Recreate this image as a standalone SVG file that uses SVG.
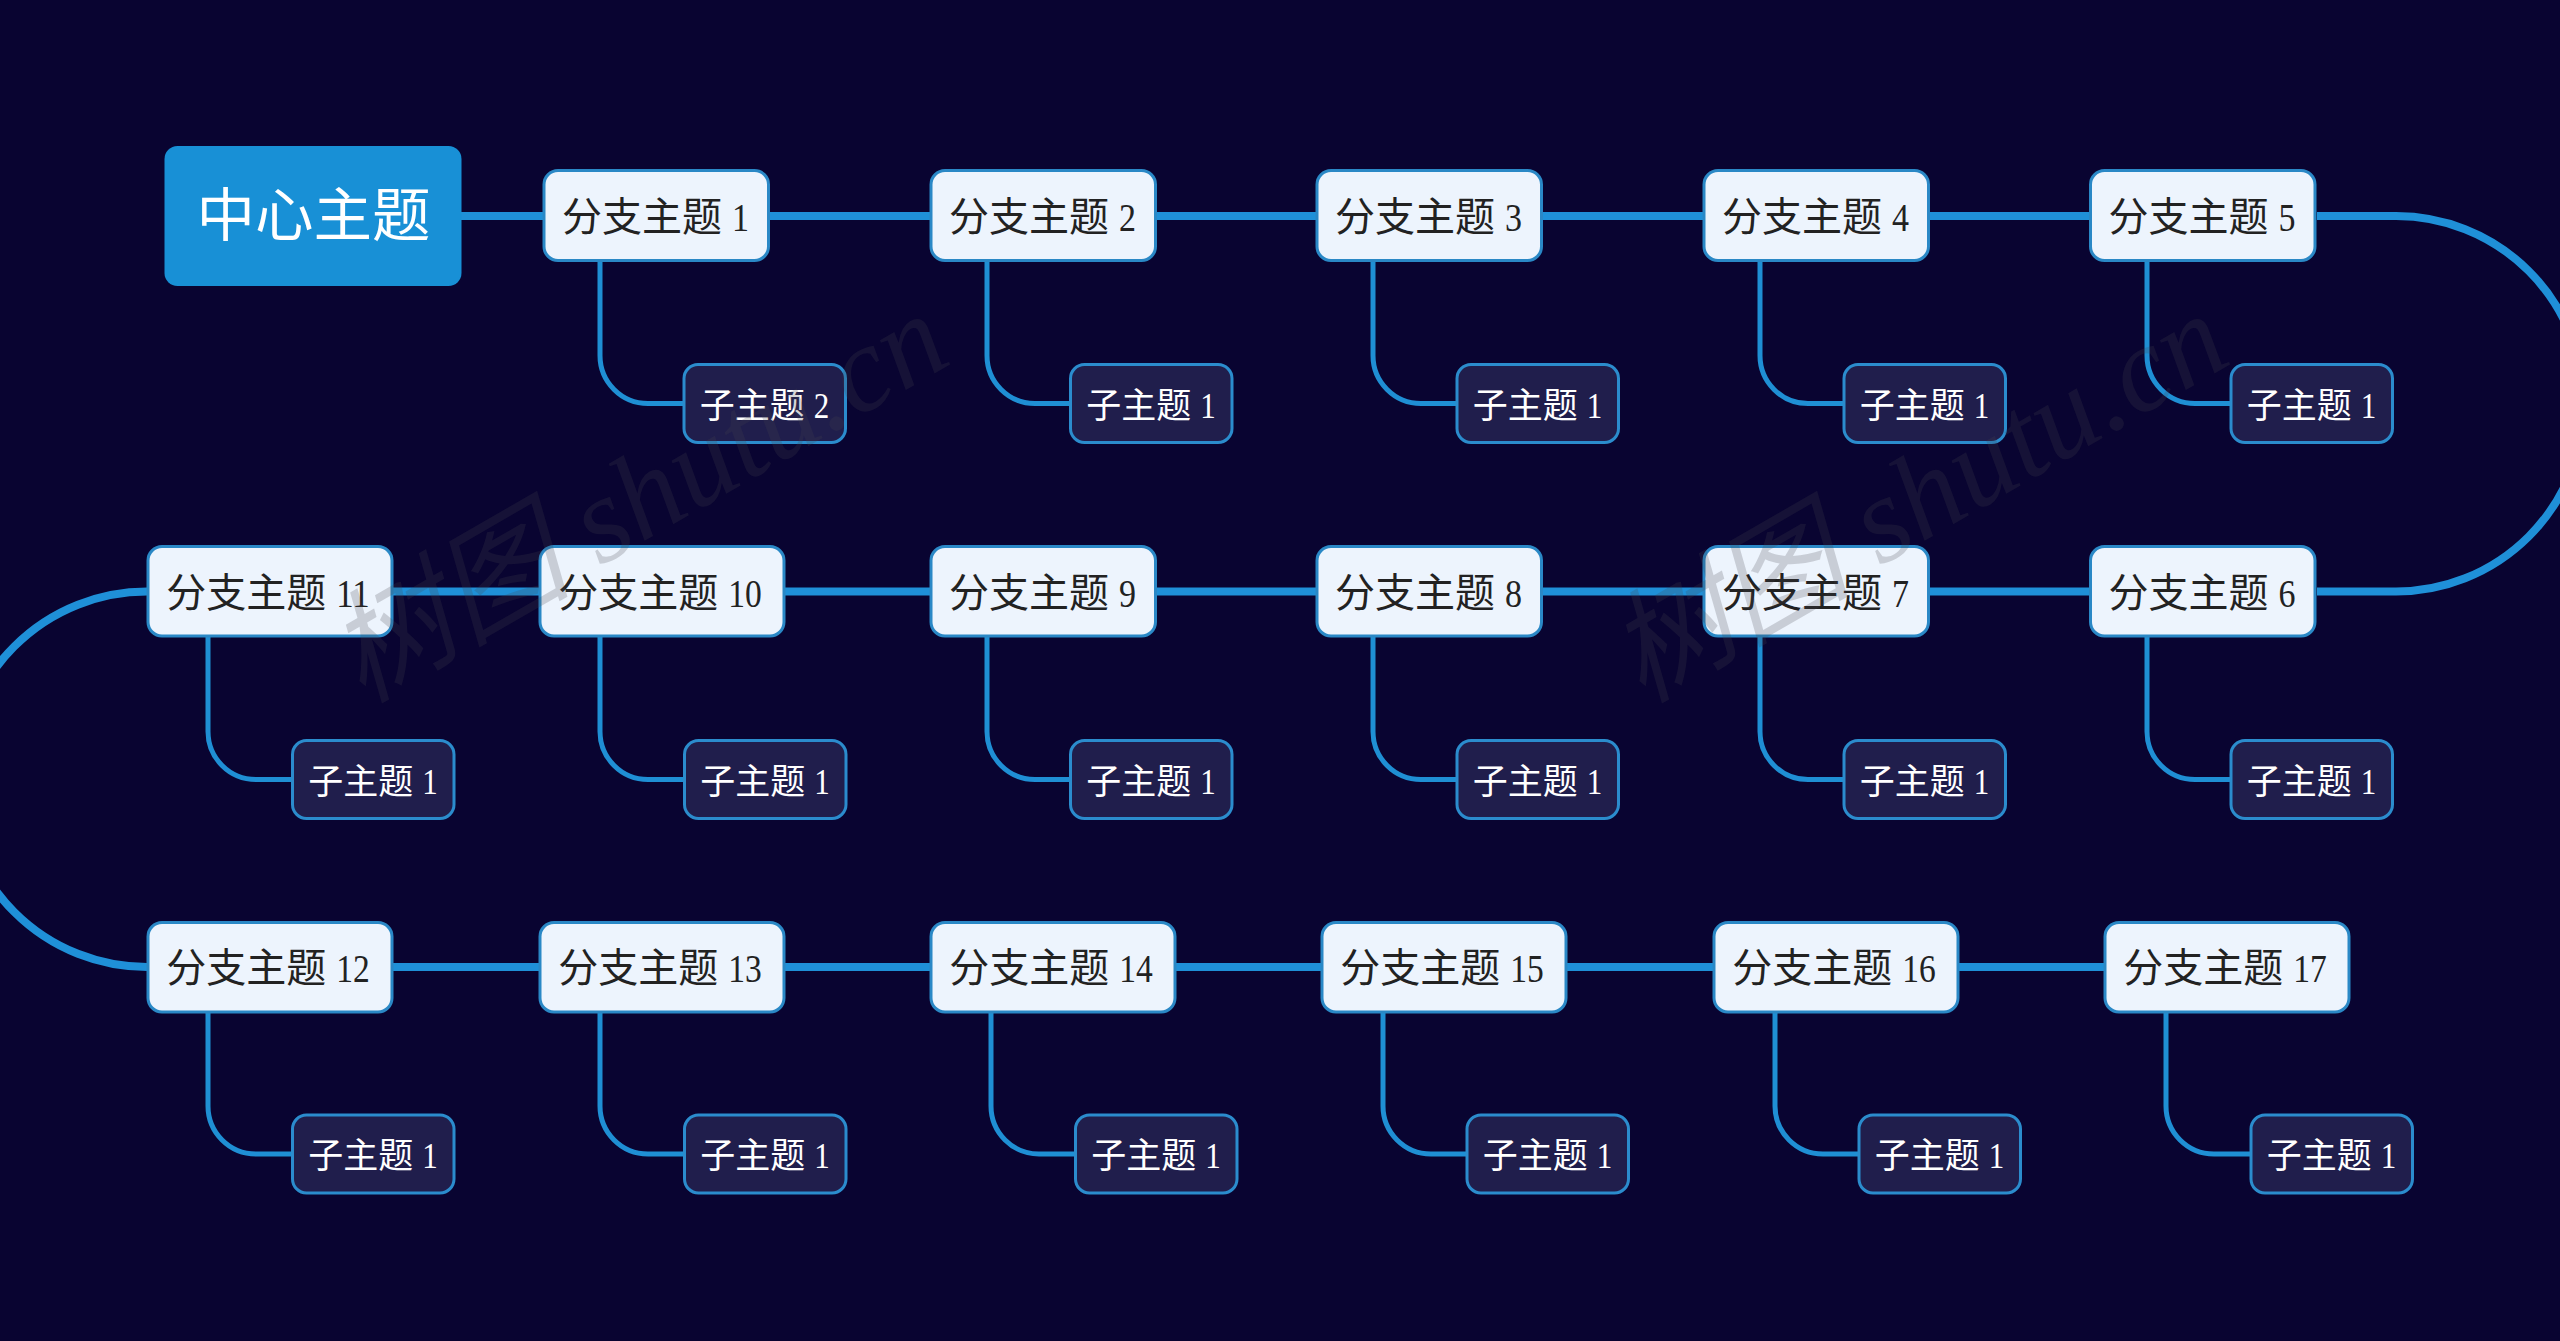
<svg xmlns="http://www.w3.org/2000/svg" width="2560" height="1341" viewBox="0 0 2560 1341">
<style>
text{font-family:"Liberation Serif","Noto Sans CJK SC",sans-serif;text-anchor:middle}
.trunk{fill:none;stroke:#1f90d8;stroke-width:8}
.sub{fill:none;stroke:#1f8fd4;stroke-width:5}
.b rect{fill:#edf4fd;stroke:#2a88c6;stroke-width:3}
.b text{font-size:40px;fill:#222}
.c rect{fill:#201e4c;stroke:#2b8ccd;stroke-width:3}
.c text{font-size:35px;fill:#fff}
.r rect{fill:#1890d6}
.r text{font-size:58.5px;fill:#fff}
.wm{font-size:122px;font-style:italic;fill:#46464f;fill-opacity:.22;text-anchor:start}
</style>
<rect width="2560" height="1341" fill="#090431"/>
<g id="connectors">
<path class="trunk" d="M461 216H543M770 216H930M1156 216H1316M1543 216H1703M1930 216H2090"/>
<path class="trunk" d="M2317 216H2396A187.75 187.75 0 0 1 2396 591.5H2317"/>
<path class="trunk" d="M2090 591.5H1930M1703 591.5H1543M1316 591.5H1156M930 591.5H784M539 591.5H393"/>
<path class="trunk" d="M147 591.5A187.75 187.75 0 0 0 147 967"/>
<path class="trunk" d="M393 967H539M784 967H930M1176 967H1321M1567 967H1713M1959 967H2104"/>
<path class="sub" d="M600 262V355.5A48 48 0 0 0 648 403.5H683"/>
<path class="sub" d="M987 262V355.5A48 48 0 0 0 1035 403.5H1070"/>
<path class="sub" d="M1373 262V355.5A48 48 0 0 0 1421 403.5H1456"/>
<path class="sub" d="M1760 262V355.5A48 48 0 0 0 1808 403.5H1843"/>
<path class="sub" d="M2147 262V355.5A48 48 0 0 0 2195 403.5H2230"/>
<path class="sub" d="M2147 637V731.5A48 48 0 0 0 2195 779.5H2230"/>
<path class="sub" d="M1760 637V731.5A48 48 0 0 0 1808 779.5H1843"/>
<path class="sub" d="M1373 637V731.5A48 48 0 0 0 1421 779.5H1456"/>
<path class="sub" d="M987 637V731.5A48 48 0 0 0 1035 779.5H1070"/>
<path class="sub" d="M600 637V731.5A48 48 0 0 0 648 779.5H684"/>
<path class="sub" d="M208 637V731.5A48 48 0 0 0 256 779.5H292"/>
<path class="sub" d="M208 1013V1106A48 48 0 0 0 256 1154H292"/>
<path class="sub" d="M600 1013V1106A48 48 0 0 0 648 1154H684"/>
<path class="sub" d="M991 1013V1106A48 48 0 0 0 1039 1154H1075"/>
<path class="sub" d="M1383 1013V1106A48 48 0 0 0 1431 1154H1466"/>
<path class="sub" d="M1775 1013V1106A48 48 0 0 0 1823 1154H1858"/>
<path class="sub" d="M2166 1013V1106A48 48 0 0 0 2214 1154H2250"/>
</g>
<g id="root" class="r"><rect x="164.5" y="146" width="297" height="140" rx="13"/><text x="313.5" y="236">中心主题</text></g>
<g id="b1" class="b"><rect x="544" y="170.5" width="224.5" height="90" rx="14"/><text x="655.5" y="231">分支主题 <tspan textLength="17" lengthAdjust="spacingAndGlyphs">1</tspan></text></g>
<g id="b2" class="b"><rect x="931" y="170.5" width="224.5" height="90" rx="14"/><text x="1042.5" y="231">分支主题 <tspan textLength="17" lengthAdjust="spacingAndGlyphs">2</tspan></text></g>
<g id="b3" class="b"><rect x="1317" y="170.5" width="224.5" height="90" rx="14"/><text x="1428.5" y="231">分支主题 <tspan textLength="17" lengthAdjust="spacingAndGlyphs">3</tspan></text></g>
<g id="b4" class="b"><rect x="1704" y="170.5" width="224.5" height="90" rx="14"/><text x="1815.5" y="231">分支主题 <tspan textLength="17" lengthAdjust="spacingAndGlyphs">4</tspan></text></g>
<g id="b5" class="b"><rect x="2090.5" y="170.5" width="224.5" height="90" rx="14"/><text x="2202" y="231">分支主题 <tspan textLength="17" lengthAdjust="spacingAndGlyphs">5</tspan></text></g>
<g id="b6" class="b"><rect x="2090.5" y="546.5" width="224.5" height="89.5" rx="14"/><text x="2202" y="606.5">分支主题 <tspan textLength="17" lengthAdjust="spacingAndGlyphs">6</tspan></text></g>
<g id="b7" class="b"><rect x="1704" y="546.5" width="224.5" height="89.5" rx="14"/><text x="1815.5" y="606.5">分支主题 <tspan textLength="17" lengthAdjust="spacingAndGlyphs">7</tspan></text></g>
<g id="b8" class="b"><rect x="1317" y="546.5" width="224.5" height="89.5" rx="14"/><text x="1428.5" y="606.5">分支主题 <tspan textLength="17" lengthAdjust="spacingAndGlyphs">8</tspan></text></g>
<g id="b9" class="b"><rect x="931" y="546.5" width="224.5" height="89.5" rx="14"/><text x="1042.5" y="606.5">分支主题 <tspan textLength="17" lengthAdjust="spacingAndGlyphs">9</tspan></text></g>
<g id="b10" class="b"><rect x="540" y="546.5" width="244" height="89.5" rx="14"/><text x="660" y="606.5">分支主题 <tspan textLength="33.5" lengthAdjust="spacingAndGlyphs">10</tspan></text></g>
<g id="b11" class="b"><rect x="148" y="546.5" width="244" height="89.5" rx="14"/><text x="268" y="606.5">分支主题 <tspan textLength="33.5" lengthAdjust="spacingAndGlyphs">11</tspan></text></g>
<g id="b12" class="b"><rect x="148" y="922.5" width="244" height="89.5" rx="14"/><text x="268" y="982">分支主题 <tspan textLength="33.5" lengthAdjust="spacingAndGlyphs">12</tspan></text></g>
<g id="b13" class="b"><rect x="540" y="922.5" width="244" height="89.5" rx="14"/><text x="660" y="982">分支主题 <tspan textLength="33.5" lengthAdjust="spacingAndGlyphs">13</tspan></text></g>
<g id="b14" class="b"><rect x="931" y="922.5" width="244" height="89.5" rx="14"/><text x="1051" y="982">分支主题 <tspan textLength="33.5" lengthAdjust="spacingAndGlyphs">14</tspan></text></g>
<g id="b15" class="b"><rect x="1322" y="922.5" width="244" height="89.5" rx="14"/><text x="1442" y="982">分支主题 <tspan textLength="33.5" lengthAdjust="spacingAndGlyphs">15</tspan></text></g>
<g id="b16" class="b"><rect x="1714" y="922.5" width="244" height="89.5" rx="14"/><text x="1834" y="982">分支主题 <tspan textLength="33.5" lengthAdjust="spacingAndGlyphs">16</tspan></text></g>
<g id="b17" class="b"><rect x="2105" y="922.5" width="244" height="89.5" rx="14"/><text x="2225" y="982">分支主题 <tspan textLength="33.5" lengthAdjust="spacingAndGlyphs">17</tspan></text></g>
<g id="c1" class="c"><rect x="684" y="364.5" width="161.5" height="78" rx="14"/><text x="764.5" y="417.5">子主题 <tspan textLength="15.5" lengthAdjust="spacingAndGlyphs">2</tspan></text></g>
<g id="c2" class="c"><rect x="1070.5" y="364.5" width="161.5" height="78" rx="14"/><text x="1151" y="417.5">子主题 <tspan textLength="15.5" lengthAdjust="spacingAndGlyphs">1</tspan></text></g>
<g id="c3" class="c"><rect x="1457" y="364.5" width="161.5" height="78" rx="14"/><text x="1537.5" y="417.5">子主题 <tspan textLength="15.5" lengthAdjust="spacingAndGlyphs">1</tspan></text></g>
<g id="c4" class="c"><rect x="1844" y="364.5" width="161.5" height="78" rx="14"/><text x="1924.5" y="417.5">子主题 <tspan textLength="15.5" lengthAdjust="spacingAndGlyphs">1</tspan></text></g>
<g id="c5" class="c"><rect x="2231" y="364.5" width="161.5" height="78" rx="14"/><text x="2311.5" y="417.5">子主题 <tspan textLength="15.5" lengthAdjust="spacingAndGlyphs">1</tspan></text></g>
<g id="c6" class="c"><rect x="2231" y="740.5" width="161.5" height="78" rx="14"/><text x="2311.5" y="793.5">子主题 <tspan textLength="15.5" lengthAdjust="spacingAndGlyphs">1</tspan></text></g>
<g id="c7" class="c"><rect x="1844" y="740.5" width="161.5" height="78" rx="14"/><text x="1924.5" y="793.5">子主题 <tspan textLength="15.5" lengthAdjust="spacingAndGlyphs">1</tspan></text></g>
<g id="c8" class="c"><rect x="1457" y="740.5" width="161.5" height="78" rx="14"/><text x="1537.5" y="793.5">子主题 <tspan textLength="15.5" lengthAdjust="spacingAndGlyphs">1</tspan></text></g>
<g id="c9" class="c"><rect x="1070.5" y="740.5" width="161.5" height="78" rx="14"/><text x="1151" y="793.5">子主题 <tspan textLength="15.5" lengthAdjust="spacingAndGlyphs">1</tspan></text></g>
<g id="c10" class="c"><rect x="684.5" y="740.5" width="161.5" height="78" rx="14"/><text x="765" y="793.5">子主题 <tspan textLength="15.5" lengthAdjust="spacingAndGlyphs">1</tspan></text></g>
<g id="c11" class="c"><rect x="292.5" y="740.5" width="161.5" height="78" rx="14"/><text x="373" y="793.5">子主题 <tspan textLength="15.5" lengthAdjust="spacingAndGlyphs">1</tspan></text></g>
<g id="c12" class="c"><rect x="292.5" y="1115" width="161.5" height="78" rx="14"/><text x="373" y="1168">子主题 <tspan textLength="15.5" lengthAdjust="spacingAndGlyphs">1</tspan></text></g>
<g id="c13" class="c"><rect x="684.5" y="1115" width="161.5" height="78" rx="14"/><text x="765" y="1168">子主题 <tspan textLength="15.5" lengthAdjust="spacingAndGlyphs">1</tspan></text></g>
<g id="c14" class="c"><rect x="1075.5" y="1115" width="161.5" height="78" rx="14"/><text x="1156" y="1168">子主题 <tspan textLength="15.5" lengthAdjust="spacingAndGlyphs">1</tspan></text></g>
<g id="c15" class="c"><rect x="1467" y="1115" width="161.5" height="78" rx="14"/><text x="1547.5" y="1168">子主题 <tspan textLength="15.5" lengthAdjust="spacingAndGlyphs">1</tspan></text></g>
<g id="c16" class="c"><rect x="1859" y="1115" width="161.5" height="78" rx="14"/><text x="1939.5" y="1168">子主题 <tspan textLength="15.5" lengthAdjust="spacingAndGlyphs">1</tspan></text></g>
<g id="c17" class="c"><rect x="2251" y="1115" width="161.5" height="78" rx="14"/><text x="2331.5" y="1168">子主题 <tspan textLength="15.5" lengthAdjust="spacingAndGlyphs">1</tspan></text></g>
<g id="watermark">
<text class="wm" transform="translate(362 704) rotate(-30)">树图 shutu.cn</text>
<text class="wm" transform="translate(1642 704) rotate(-30)">树图 shutu.cn</text>
</g>
</svg>
